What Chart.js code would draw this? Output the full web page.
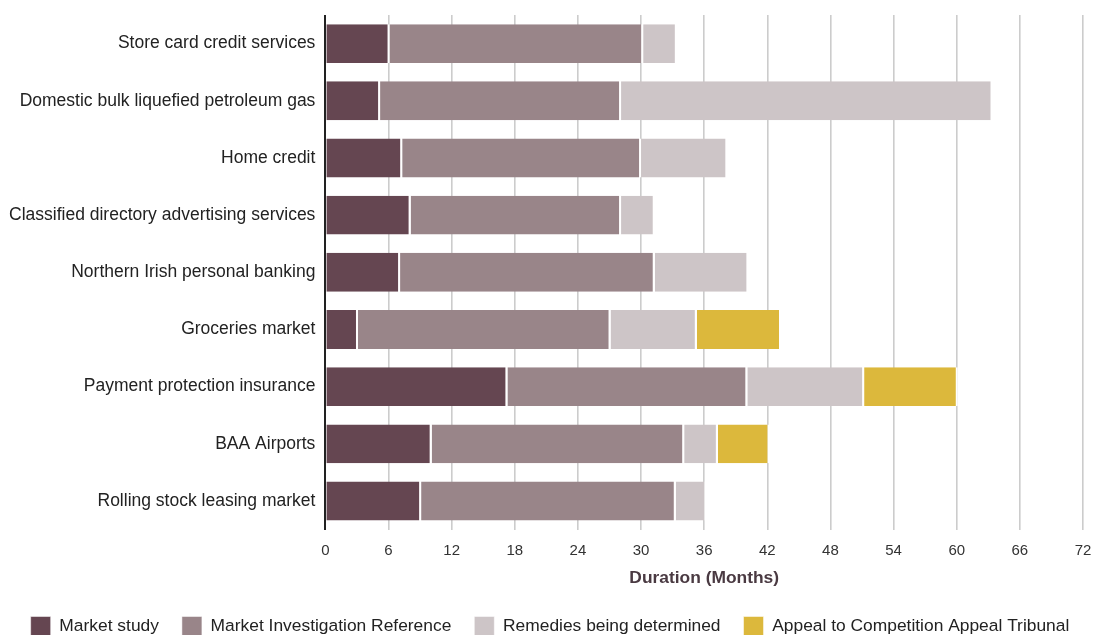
<!DOCTYPE html>
<html>
<head>
<meta charset="utf-8">
<script src="https://cdn.jsdelivr.net/npm/chart.js@4"></script>
<style>
  html, body { margin: 0; padding: 0; background: #fff; }
  #wrap { width: 1093px; height: 635px; }
</style>
</head>
<body>
<div id="wrap"><canvas id="myChart" width="1093" height="635"></canvas></div>
<script>
// categories, top to bottom
var markets = [
  "Store card credit services",
  "Domestic bulk liquefied petroleum gas",
  "Home credit",
  "Classified directory advertising services",
  "Northern Irish personal banking",
  "Groceries market",
  "Payment protection insurance",
  "BAA Airports",
  "Rolling stock leasing market"
];

// months spent in each stage
var marketStudy = [6.1, 5.2, 7.3, 8.1, 7.1, 3.1, 17.3, 10.1, 9.1];
var mirMonths   = [24.1, 22.9, 22.7, 20, 24.2, 24, 22.8, 24, 24.2];
var remedies    = [3.2, 35.3, 8.2, 3.2, 8.9, 8.2, 11.1, 3.2, 2.9];
var appeal      = [0, 0, 0, 0, 0, 8, 8.9, 4.9, 0];

var stageNames = ["Market study", "Market Investigation Reference", "Remedies being determined", "Appeal to Competition Appeal Tribunal"];
var stageColors = ["#654651", "#998589", "#cdc5c7", "#dcb83c"];

var xTicks = [0, 6, 12, 18, 24, 30, 36, 42, 48, 54, 60, 66, 72];

var font = "'Liberation Sans', Arial, sans-serif";

var ctx = document.getElementById('myChart').getContext('2d');

var series = [marketStudy, mirMonths, remedies, appeal];
var datasets = [];
for (var i = 0; i < series.length; i++) {
  datasets.push({
    label: stageNames[i],
    data: series[i],
    backgroundColor: stageColors[i],
    borderColor: "#ffffff",
    borderWidth: { left: 0, right: 2, top: 0, bottom: 0 },
    borderSkipped: false,
    barPercentage: 0.68,
    categoryPercentage: 1
  });
}

var myChart = new Chart(ctx, {
  type: "bar",
  data: { labels: markets, datasets: datasets },
  options: {
    indexAxis: "y",
    responsive: false,
    animation: false,
    // negative bottom lets the legend sit on the lower edge like the original
    layout: { padding: { top: 15, right: 0, left: 7, bottom: -11.5 } },
    scales: {
      x: {
        stacked: true,
        min: 0,
        max: 72,
        afterBuildTicks: function (axis) {
          axis.ticks = xTicks.map(function (v) { return { value: v }; });
        },
        // the tick padding below would otherwise also eat space on the right
        afterFit: function (axis) {
          axis.paddingRight = 10;
        },
        border: { display: false },
        grid: {
          color: function (c) { return c.index === 0 ? "#222222" : "#cccccc"; },
          lineWidth: function (c) { return c.index === 0 ? 2 : 1.6; },
          drawTicks: false
        },
        ticks: {
          color: "#333333",
          font: { family: font, size: 15 },
          padding: 12,
          maxRotation: 0
        },
        title: {
          display: true,
          text: "Duration (Months)",
          color: "#4a3a42",
          font: { family: font, size: 17.4, weight: "bold" },
          padding: { top: -4, bottom: 5 }
        }
      },
      y: {
        stacked: true,
        border: { display: false },
        grid: { display: false },
        ticks: {
          color: "#222222",
          font: { family: font, size: 17.5 },
          padding: 2
        }
      }
    },
    plugins: {
      legend: {
        position: "bottom",
        labels: {
          color: "#222222",
          font: { family: font, size: 17.4 },
          boxWidth: 20,
          boxHeight: 20,
          padding: 23
        }
      },
      tooltip: { enabled: false }
    }
  }
});
</script>
</body>
</html>
